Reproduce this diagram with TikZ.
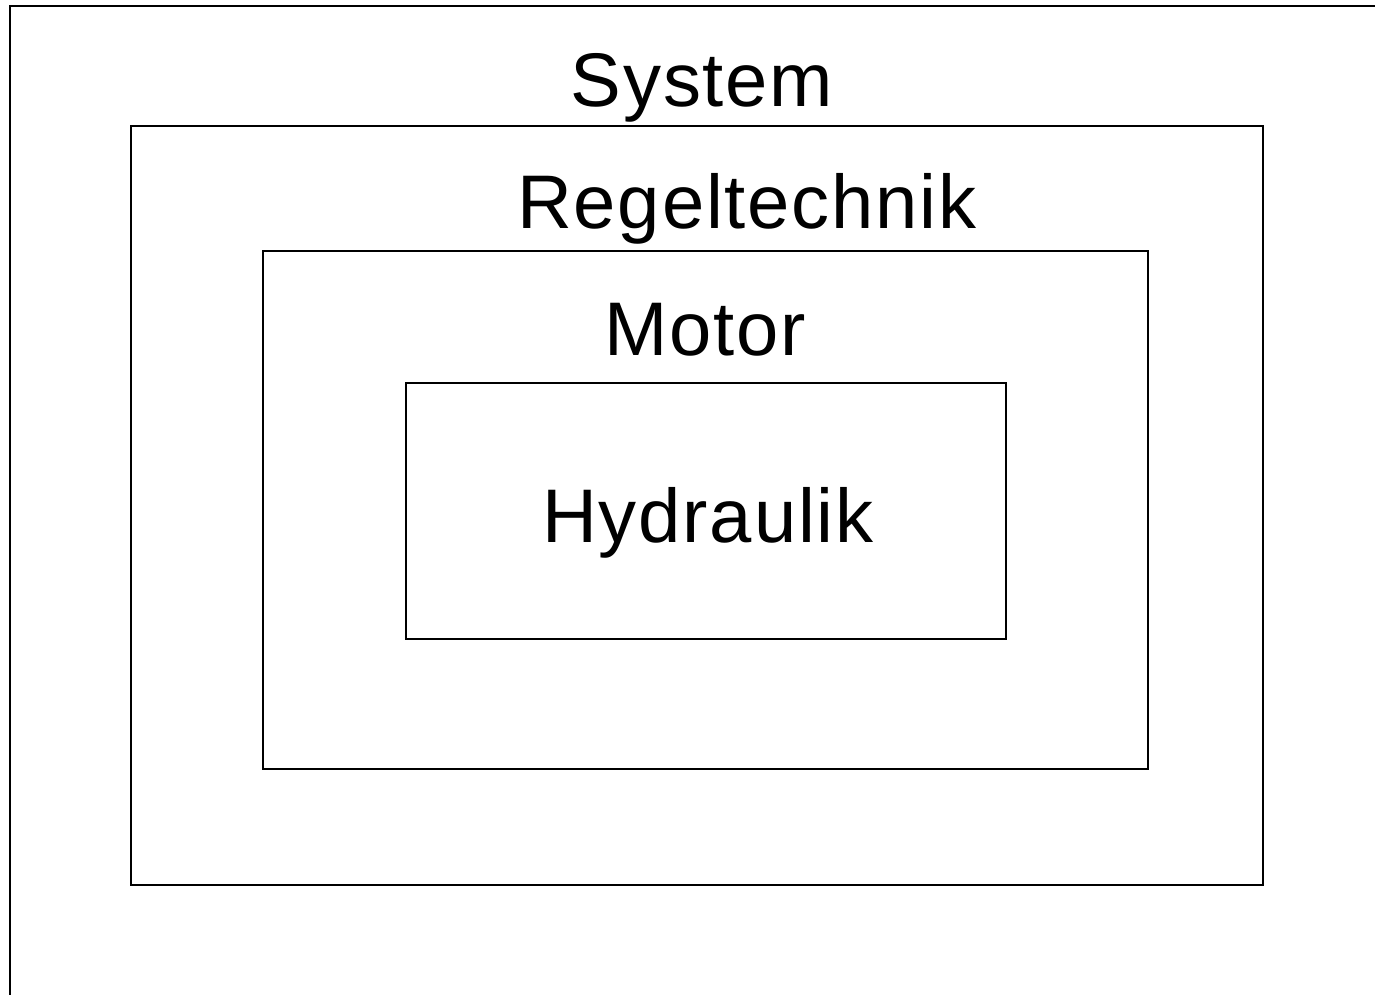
\documentclass[tikz,border=0pt]{standalone}
\usepackage{fontspec}
\setmainfont{Liberation Sans}[LetterSpace=2.4]
\begin{document}
\begin{tikzpicture}[x=1pt,y=-1pt,
  frame/.style={draw=black, line width=2pt, inner sep=0pt, outer sep=0pt},
  label/.style={anchor=base, inner sep=0pt, font=\fontsize{76}{90}\selectfont}]
  \useasboundingbox (0,0) rectangle (1375,995);
  % outer sheet border (top and left edges)
  \coordinate (bl) at (10,995);
  \coordinate (tl) at (10,6);
  \coordinate (tr) at (1375,6);
  \draw[line width=2pt] (bl) -- (tl) -- (tr);
  % nested boxes
  \node[frame, minimum width=1132pt, minimum height=759pt] (sys) at (696.5,505.5) {};
  \node[frame, minimum width=885pt, minimum height=518pt] (reg) at (705.5,510) {};
  \node[frame, minimum width=600pt, minimum height=256pt] (mot) at (706,511) {};
  % labels
  \node[label] (lsys) at (702,107) {System};
  \node[label] (lreg) at (747,228) {Regeltechnik};
  \node[label] (lmot) at (705,355) {Motor};
  \node[label] (lhyd) at (708,542) {Hydraulik};
\end{tikzpicture}
\end{document}
